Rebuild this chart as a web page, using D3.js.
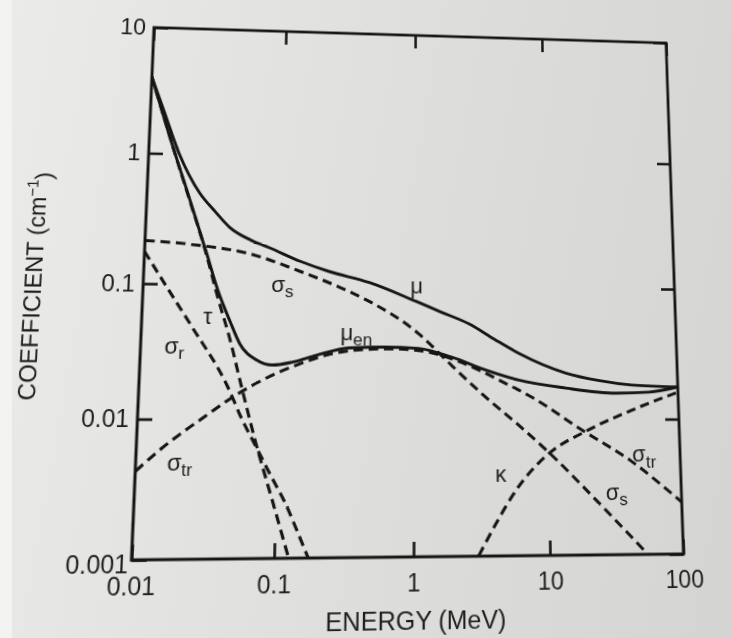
<!DOCTYPE html>
<html><head><meta charset="utf-8">
<script src="https://cdn.jsdelivr.net/npm/d3@7"></script>
<style>
html,body{margin:0;padding:0;}
body{width:731px;height:638px;overflow:hidden;position:relative;
 background:linear-gradient(100deg,#ebebe9 0%,#e2e2e0 35%,#dadad8 70%,#d4d4d2 100%);}
#strip{position:absolute;left:0;top:0;width:12px;height:638px;background:#f3f3f2;}
#wrap{position:absolute;left:0;top:0;width:731px;height:638px;transform-origin:0 0;}
svg{display:block;overflow:visible}
text{font-family:"Liberation Sans",Arial,Helvetica,sans-serif;fill:#1e1e1e;}
</style></head><body>
<div id="strip"></div>
<div id="wrap"></div>
<script>
// ---------- data (energy in MeV, coefficient in cm^-1) ----------
const xTickValues = [0.01, 0.1, 1, 10, 100];
const xTickLabels = ["0.01", "0.1", "1", "10", "100"];
const yTickValues = [0.001, 0.01, 0.1, 1, 10];
const yTickLabels = ["0.001", "0.01", "0.1", "1", "10"];

const muE   = [0.01, 0.0125, 0.0168, 0.0243, 0.032, 0.0413, 0.06, 0.082, 0.14, 0.229, 0.46, 1.03, 1.6, 2.59, 4.0, 6.15, 13.9, 25, 44, 100];
const muV   = [4.0, 2.2, 1.0, 0.50, 0.36, 0.273, 0.218, 0.192, 0.152, 0.128, 0.106, 0.0768, 0.0637, 0.052, 0.040, 0.0312, 0.0222, 0.0195, 0.0181, 0.0175];

const muenE = [0.01, 0.0154, 0.02, 0.0282, 0.035, 0.0435, 0.0518, 0.0692, 0.0904, 0.126, 0.189, 0.33, 0.6, 1.08, 1.92, 3.45, 6.1, 13.8, 33.4, 59.8, 100];
const muenV = [4.0, 1.05, 0.49, 0.175, 0.090, 0.053, 0.036, 0.0272, 0.025, 0.0263, 0.0297, 0.0338, 0.0344, 0.0337, 0.029, 0.0233, 0.0196, 0.0171, 0.0157, 0.016, 0.0175];

const tauE  = [0.01, 0.0154, 0.02, 0.0282, 0.035, 0.0435, 0.0556, 0.0705, 0.096, 0.127];
const tauV  = [4.0, 1.05, 0.48, 0.17, 0.08, 0.040, 0.016, 0.0068, 0.0025, 0.001];

const sigmaRE = [0.01, 0.0147, 0.0234, 0.0424, 0.0562, 0.0705, 0.093, 0.117, 0.143, 0.175];
const sigmaRV = [0.175, 0.096, 0.047, 0.018, 0.0098, 0.0064, 0.0038, 0.0025, 0.0016, 0.001];

const sigmaSE = [0.01, 0.0263, 0.0587, 0.138, 0.327, 0.459, 1.08, 1.92, 3.44, 6.03, 10, 23.5, 54];
const sigmaSV = [0.212, 0.196, 0.172, 0.128, 0.090, 0.0762, 0.0436, 0.025, 0.0145, 0.009, 0.0057, 0.0024, 0.001];

const sigmaTrE = [0.01, 0.015, 0.02, 0.03, 0.045, 0.07, 0.135, 0.236, 0.4, 0.7, 1.0, 1.5, 2.2, 3.2, 4.32, 7.6, 18, 42.8, 100];
const sigmaTrV = [0.0042, 0.0061, 0.0077, 0.0104, 0.0140, 0.0184, 0.0250, 0.0302, 0.0328, 0.0334, 0.0328, 0.0305, 0.0268, 0.0228, 0.0196, 0.0146, 0.0083, 0.0048, 0.0024];

const kappaE = [2.98, 3.99, 5.64, 10, 19.3, 44, 100];
const kappaV = [0.001, 0.00169, 0.00295, 0.0055, 0.0081, 0.0117, 0.016];

// curve labels (symbol, subscript, energy, coefficient)
const labelMain = ["μ", "μ", "σ", "τ", "σ", "σ", "κ", "σ", "σ"];
const labelSub  = ["", "en", "s", "", "r", "tr", "", "tr", "s"];
const labelE    = [1.04, 0.371, 0.104, 0.0299, 0.0175, 0.0205, 4.39, 53, 32.3];
const labelV    = [0.098, 0.0427, 0.098, 0.056, 0.0336, 0.0047, 0.00385, 0.0053, 0.00278];

// ---------- layout ----------
const W = 731, H = 638;
const m = {left:143, top:35, right:675, bottom:557};
// photographed frame corners (TL, TR, BR, BL) -> page perspective
const photoCorners = [[154,27.5],[666,43],[683.5,554],[131.5,560]];

const x = d3.scaleLog().domain([0.01, 100]).range([m.left, m.right]);
const y = d3.scaleLog().domain([0.001, 10]).range([m.bottom, m.top]);

const svg = d3.select("#wrap").append("svg").attr("width", W).attr("height", H);

svg.append("defs").append("clipPath").attr("id","plotclip")
  .append("rect").attr("x", m.left).attr("y", m.top)
  .attr("width", m.right - m.left).attr("height", m.bottom - m.top);

const line = d3.line().x(d => x(d[0])).y(d => y(d[1])).curve(d3.curveMonotoneX);
const zip = (E, V) => E.map((e, i) => [e, V[i]]);

const curves = [
  {d: zip(sigmaRE, sigmaRV), dashed: true},
  {d: zip(tauE, tauV), dashed: true},
  {d: zip(sigmaSE, sigmaSV), dashed: true},
  {d: zip(sigmaTrE, sigmaTrV), dashed: true},
  {d: zip(kappaE, kappaV), dashed: true},
  {d: zip(muenE, muenV), dashed: false},
  {d: zip(muE, muV), dashed: false}
];
const cg = svg.append("g").attr("clip-path", "url(#plotclip)");
cg.selectAll("path").data(curves).join("path")
  .attr("d", c => line(c.d))
  .attr("fill", "none")
  .attr("stroke", "#161616")
  .attr("stroke-width", c => c.dashed ? 3 : 2.9)
  .attr("stroke-dasharray", c => c.dashed ? "9.5,5.5" : null)
  .attr("stroke-linejoin", "round");

// axes (inward ticks on all four sides)
const tickLen = 14;
const fmtX = (d) => xTickLabels[xTickValues.indexOf(d)];
const fmtY = (d) => yTickLabels[yTickValues.indexOf(d)];

const axB = svg.append("g").attr("transform", `translate(0,${m.bottom})`)
  .call(d3.axisBottom(x).tickValues(xTickValues).tickFormat(fmtX).tickSizeInner(-tickLen).tickSizeOuter(0).tickPadding(16));
const axL = svg.append("g").attr("transform", `translate(${m.left},0)`)
  .call(d3.axisLeft(y).tickValues(yTickValues).tickFormat(fmtY).tickSizeInner(-tickLen).tickSizeOuter(0).tickPadding(8));
const axT = svg.append("g").attr("transform", `translate(0,${m.top})`)
  .call(d3.axisTop(x).tickValues(xTickValues).tickFormat("").tickSizeInner(-tickLen).tickSizeOuter(0));
const axR = svg.append("g").attr("transform", `translate(${m.right},0)`)
  .call(d3.axisRight(y).tickValues(yTickValues).tickFormat("").tickSizeInner(-tickLen).tickSizeOuter(0));

[axB, axL, axT, axR].forEach(a => {
  a.select(".domain").remove();
  a.selectAll(".tick line").attr("stroke", "#161616").attr("stroke-width", 2.6);
  a.selectAll(".tick text").style("font-size", "23px").attr("fill", "#1e1e1e");
});
axL.selectAll(".tick text").filter(d => d === 0.001).attr("dy", "0.5em").attr("dx", "5");

svg.append("rect").attr("x", m.left).attr("y", m.top)
  .attr("width", m.right - m.left).attr("height", m.bottom - m.top)
  .attr("fill", "none").attr("stroke", "#161616").attr("stroke-width", 2.9);

// curve labels
const lg = svg.append("g");
labelMain.forEach((t, i) => {
  const tx = lg.append("text")
    .attr("x", x(labelE[i])).attr("y", y(labelV[i]) + 6)
    .attr("text-anchor", "middle").style("font-size", "22px");
  tx.append("tspan").text(t);
  if (labelSub[i]) tx.append("tspan").attr("dy", "0.3em").style("font-size", "17px").text(labelSub[i]);
});

// axis titles
svg.append("text").attr("x", (m.left + m.right) / 2 + 3).attr("y", m.bottom + 67)
  .attr("text-anchor", "middle").style("font-size", "24px").text("ENERGY (MeV)");
const yt = svg.append("text")
  .attr("transform", `translate(46,${(m.top + m.bottom) / 2 + 2}) rotate(-90)`)
  .attr("text-anchor", "middle").style("font-size", "23px");
yt.append("tspan").text("COEFFICIENT (cm");
yt.append("tspan").attr("dy", "-0.55em").style("font-size", "15px").text("−1");
yt.append("tspan").attr("dy", "0.55em").text(")");

// perspective of the photographed page: map the frame rectangle onto the photo corners
function homography(src, dst) {
  const A = [], b = [];
  for (let i = 0; i < 4; i++) {
    const [sx, sy] = src[i], [X, Y] = dst[i];
    A.push([sx, sy, 1, 0, 0, 0, -sx * X, -sy * X]); b.push(X);
    A.push([0, 0, 0, sx, sy, 1, -sx * Y, -sy * Y]); b.push(Y);
  }
  const n = 8;
  for (let i = 0; i < n; i++) {
    let p = i;
    for (let r = i + 1; r < n; r++) if (Math.abs(A[r][i]) > Math.abs(A[p][i])) p = r;
    [A[i], A[p]] = [A[p], A[i]]; [b[i], b[p]] = [b[p], b[i]];
    for (let r = 0; r < n; r++) {
      if (r === i) continue;
      const f = A[r][i] / A[i][i];
      for (let c = i; c < n; c++) A[r][c] -= f * A[i][c];
      b[r] -= f * b[i];
    }
  }
  return b.map((v, i) => v / A[i][i]);
}
const src = [[m.left, m.top], [m.right, m.top], [m.right, m.bottom], [m.left, m.bottom]];
const h = homography(src, photoCorners);
document.getElementById("wrap").style.transform =
  `matrix3d(${h[0]},${h[3]},0,${h[6]},${h[1]},${h[4]},0,${h[7]},0,0,1,0,${h[2]},${h[5]},0,1)`;
</script>
</body></html>
